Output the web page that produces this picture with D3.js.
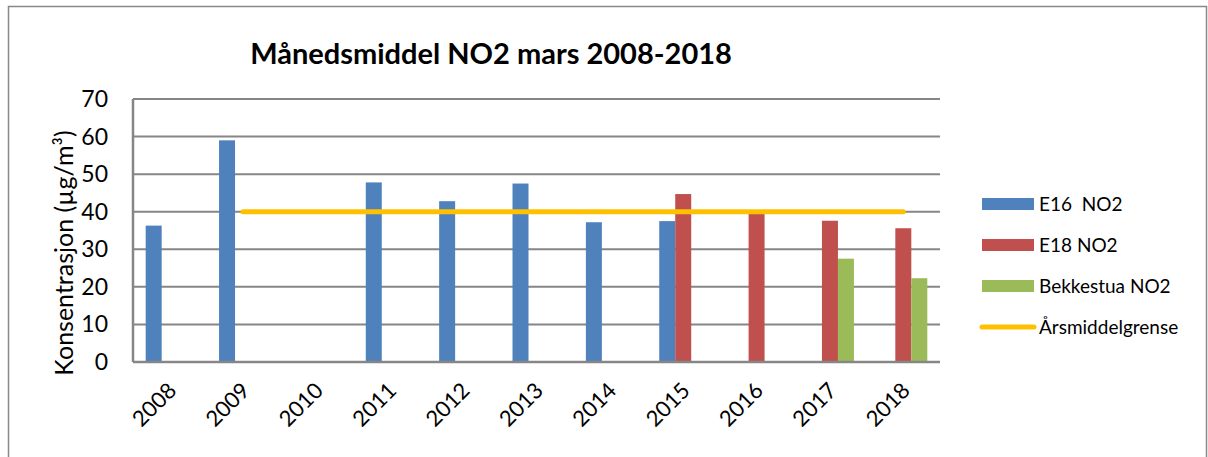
<!DOCTYPE html>
<html>
<head>
<meta charset="utf-8">
<script src="https://cdn.jsdelivr.net/npm/d3@7"></script>
<style>
  body { margin: 0; background: #fff; }
  svg text { font-family: Lato, "Open Sans", sans-serif; fill: #000; white-space: pre; }
</style>
</head>
<body>
<svg id="chart" width="1208" height="457"></svg>
<script>
var years      = ['2008','2009','2010','2011','2012','2013','2014','2015','2016','2017','2018'];
var e16        = [36.3, 59.0, null, 47.8, 42.8, 47.5, 37.2, 37.5, null, null, null];
var e18        = [null, null, null, null, null, null, null, 44.7, 39.5, 37.6, 35.6];
var bekkestua  = [null, null, null, null, null, null, null, null, null, 27.5, 22.3];
var grense     = [null, 40, 40, 40, 40, 40, 40, 40, 40, 40, 40];
var seriesNames = ['E16  NO2', 'E18 NO2', 'Bekkestua NO2'];
var yTicks     = [0, 10, 20, 30, 40, 50, 60, 70];

var colors = ['#4F81BD', '#C0504D', '#9BBB59'];
var lineColor = '#FFC000';

var svg = d3.select('#chart');
var plot = {left: 133, right: 940, top: 99, bottom: 362};

// outer frame
svg.append('rect')
	.attr('x', 8.5).attr('y', 6.5)
	.attr('width', 1198).attr('height', 460)
	.attr('fill', 'none').attr('stroke', '#888').attr('stroke-width', 1.5);

var x = d3.scaleBand().domain(years).range([plot.left, plot.right]).paddingInner(0.346).paddingOuter(0.173);
var xs = d3.scaleBand().domain([0,1,2]).range([0, x.bandwidth()]);
var y = d3.scaleLinear().domain([0, 70]).range([plot.bottom, plot.top]);

// gridlines
svg.append('g').selectAll('line').data(yTicks.slice(1)).enter().append('line')
	.attr('x1', plot.left).attr('x2', plot.right)
	.attr('y1', function(d){ return y(d); }).attr('y2', function(d){ return y(d); })
	.attr('stroke', '#868686').attr('stroke-width', 2);

// bars
var data = [e16, e18, bekkestua];
data.forEach(function(vals, si){
	svg.append('g').selectAll('rect')
		.data(years.map(function(yr, i){ return {year: yr, v: vals[i]}; }).filter(function(d){ return d.v != null; }))
		.enter().append('rect')
		.attr('x', function(d){ return x(d.year) + xs(si); })
		.attr('width', xs.bandwidth())
		.attr('y', function(d){ return y(d.v); })
		.attr('height', function(d){ return y(0) - y(d.v); })
		.attr('fill', colors[si]);
});

// axes lines
svg.append('line').attr('x1', plot.left).attr('x2', plot.left).attr('y1', plot.top).attr('y2', plot.bottom)
	.attr('stroke', '#868686').attr('stroke-width', 2.5);
svg.append('line').attr('x1', plot.left).attr('x2', plot.right).attr('y1', plot.bottom).attr('y2', plot.bottom)
	.attr('stroke', '#868686').attr('stroke-width', 2.5);

// limit line
var line = d3.line()
	.defined(function(d){ return d != null; })
	.x(function(d, i){ return x(years[i]) + x.bandwidth()/2; })
	.y(function(d){ return y(d); });
svg.append('path').datum(grense)
	.attr('d', line).attr('fill', 'none')
	.attr('stroke', lineColor).attr('stroke-width', 5).attr('stroke-linecap', 'round');

// y tick labels
svg.append('g').selectAll('text').data(yTicks).enter().append('text')
	.attr('x', 108).attr('y', function(d){ return y(d); })
	.attr('dy', '0.35em').attr('text-anchor', 'end')
	.style('font-size', '23px')
	.text(function(d){ return d; });

// x tick labels
svg.append('g').selectAll('text').data(years).enter().append('text')
	.attr('transform', function(d){ return 'translate(' + (x(d) + x.bandwidth()/2 + 8) + ',392) rotate(-45)'; })
	.attr('text-anchor', 'end')
	.style('font-size', '22px')
	.text(function(d){ return d; });

// y title
svg.append('text')
	.attr('transform', 'translate(73,253) rotate(-90)')
	.attr('text-anchor', 'middle')
	.style('font-size', '25px')
	.text('Konsentrasjon (µg/m³)');

// title
svg.append('text')
	.attr('x', 491).attr('y', 64)
	.attr('text-anchor', 'middle')
	.style('font-size', '29px').style('font-weight', 'bold')
	.text('Månedsmiddel NO2 mars 2008-2018');

// legend
var legend = svg.append('g');
seriesNames.forEach(function(name, i){
	var ly = 204 + i * 41;
	legend.append('rect').attr('x', 982).attr('y', ly - 6).attr('width', 52).attr('height', 12).attr('fill', colors[i]);
	legend.append('text').attr('x', 1039).attr('y', ly).attr('dy', '0.35em').style('font-size', '19px').text(name);
});
legend.append('line').attr('x1', 982).attr('x2', 1034).attr('y1', 327).attr('y2', 327)
	.attr('stroke', lineColor).attr('stroke-width', 5).attr('stroke-linecap', 'round');
legend.append('text').attr('x', 1039).attr('y', 327).attr('dy', '0.35em').style('font-size', '19px').text('Årsmiddelgrense');
</script>
</body>
</html>
